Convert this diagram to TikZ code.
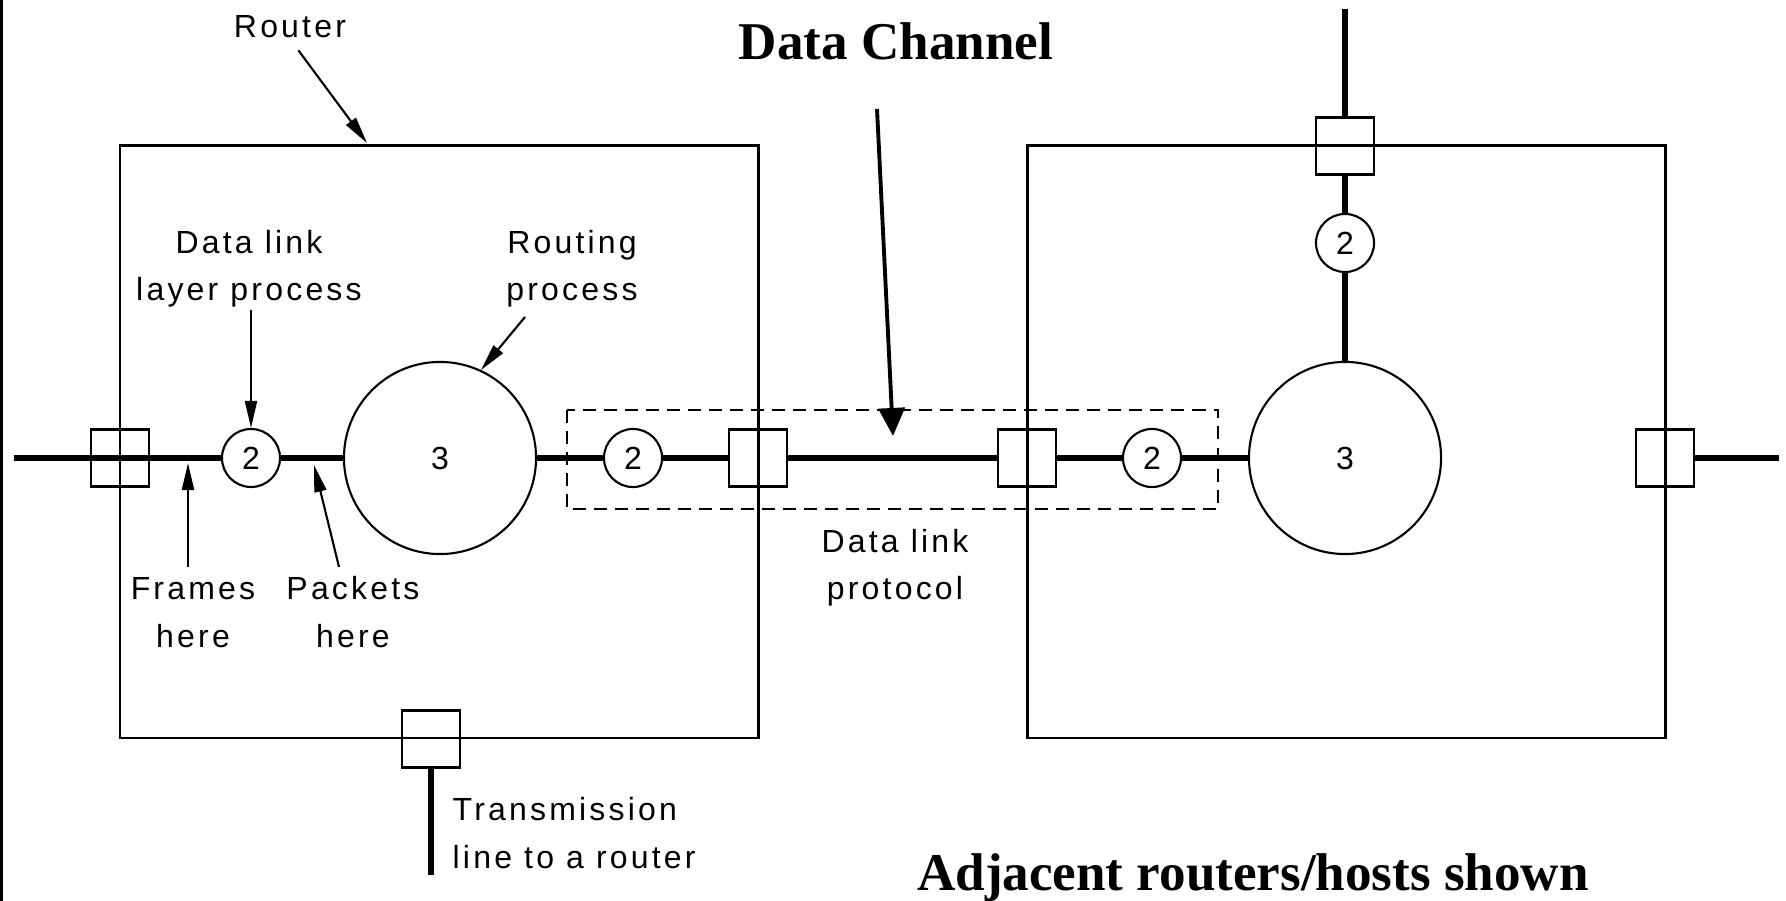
\documentclass[tikz,border=0pt]{standalone}
\usepackage{fontspec}
\setmainfont{Liberation Serif}
\newfontfamily\pixfont[LetterSpace=10]{Liberation Sans}
\usetikzlibrary{arrows.meta}

\begin{document}
\begin{tikzpicture}[
    x=0.01cm, y=-0.01cm,
    every node/.style={font=\fontsize{9.1}{13.4}\pixfont},
]

% ================================================================
% Geometry: one unit = 0.01cm, y grows downwards.
%
%   page 1786 x 901, the link line runs along y = 458
%   router boxes 638 x 592: x 120..758 and x 1027..1665, y 146..738
%   ports 58 x 57 sit on the box edges, processes (2) d = 58,
%   routing processes (3) d = 192
%   the dashed link zone spans x 567..1218, y 410..509
%   two-line labels are placed by the baseline of their last line
% ================================================================

\tikzset{
    routerbox/.style={draw, line width=0.85pt},
    port/.style={draw, line width=0.75pt,
        minimum width=0.58cm, minimum height=0.57cm, inner sep=0pt},
    dlproc/.style={circle, draw, line width=0.6pt,
        minimum size=0.58cm, inner sep=0pt},
    rtproc/.style={circle, draw, line width=0.6pt,
        minimum size=1.92cm, inner sep=0pt},
    wire/.style={line width=1.6pt},
    pointer/.style={line width=0.6pt,
        -{Triangle[length=0.27cm, width=0.12cm]}},
    chanarrow/.style={line width=1.1pt,
        -{Triangle[length=0.28cm, width=0.26cm]}},
    linkzone/.style={draw, line width=0.7pt,
        dash pattern=on 0.13cm off 0.08cm},
    lbl/.style={inner sep=0pt, align=center, anchor=base},
    heading/.style={inner sep=0pt, anchor=base,
        font=\fontsize{15.1}{18}\selectfont\bfseries},
}

\path[use as bounding box, fill=white] (0,0) rectangle (1786,901);
\draw[line width=0.85pt] (1.5,0) -- (1.5,901);

% ---------------------------------------------------------------- routers
\draw[routerbox] (120,146) rectangle (758,738);
\draw[routerbox] (1027,146) rectangle (1665,738);
\draw[linkzone] (567,410) rectangle (1218,509);

\foreach \n/\x/\y in {lport/120/458, mportl/758/458, mportr/1027/458,
                      rport/1665/458, bport/431/739, tport/1345/146}
    \node[port] (\n) at (\x,\y) {};

\foreach \n/\x/\y in {dla/251/458, dlb/633/458, dlc/1152/458, dld/1345/243}
    \node[dlproc] (\n) at (\x,\y) {2};

\node[rtproc] (rta) at (440,458) {3};
\node[rtproc] (rtb) at (1345,458) {3};

% ---------------------------------------------------------------- lines
\coordinate (westend)  at (14,458);
\coordinate (eastend)  at (1779,458);
\coordinate (southend) at (431,875);
\coordinate (northend) at (1345,9);

\draw[wire] (westend) -- (dla.west);
\draw[wire] (dla.east) -- (rta.west);
\draw[wire] (rta.east) -- (dlb.west);
\draw[wire] (dlb.east) -- (mportl.west);
\draw[wire] (mportl.east) -- (mportr.west);
\draw[wire] (mportr.east) -- (dlc.west);
\draw[wire] (dlc.east) -- (rtb.west);
\draw[wire] (rport.east) -- (eastend);
\draw[wire] (bport.south) -- (southend);
\draw[wire] (northend) -- (tport.north);
\draw[wire] (tport.south) -- (dld.north);
\draw[wire] (dld.south) -- (rtb.north);

% ---------------------------------------------------------------- labels
\node[lbl] (router) at (290,38) {Router};
\node[heading] (chantitle) at (896,60) {Data Channel};
\node[lbl] (dllabel) at (249,301) {Data link\\layer process};
\node[lbl] (rplabel) at (572,301) {Routing\\process};
\node[lbl] (frlabel) at (193,647) {Frames\\here};
\node[lbl] (pklabel) at (353,647) {Packets\\here};
\node[lbl] (dlplabel) at (895,600) {Data link\\protocol};
\node[lbl, align=left, anchor=base west] (txlabel) at (452,868)
    {Transmission\\line to a router};
\node[heading] (adjlabel) at (1253,890) {Adjacent routers/hosts shown};

% ---------------------------------------------------------------- pointers
\coordinate (routertip) at (367,143);
\coordinate (rptail)    at (525,317);
\coordinate (frtip)     at (188,463);
\coordinate (pktail)    at (339,567);
\coordinate (pktip)     at (314,465);
\coordinate (chantail)  at (877,109);
\coordinate (chantip)   at (893,436);

\draw[pointer, shorten <=0.14cm] (router.south) -- (routertip);
\draw[pointer, shorten <=0.02cm] (dllabel.south -| dla.north) -- (dla.north);
\draw[pointer] (rptail) -- (rta.65);
\draw[pointer, shorten <=0.1cm] (frlabel.north -| frtip) -- (frtip);
\draw[pointer] (pktail) -- (pktip);
\draw[chanarrow] (chantail) -- (chantip);

\end{tikzpicture}
\end{document}
